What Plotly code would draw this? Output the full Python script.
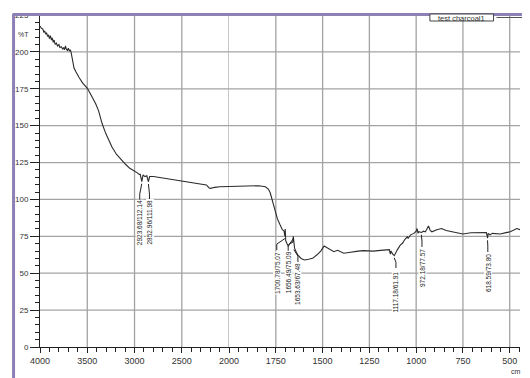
import plotly.graph_objects as go

# ---------------- data ----------------
wavenumber = [4000, 3985, 3970, 3960, 3950, 3940, 3931, 3920, 3910, 3900, 3890, 3879, 3870, 3860,
              3850, 3840, 3827, 3815, 3800, 3790, 3775, 3760, 3750, 3741, 3730, 3723, 3710, 3700,
              3689, 3680, 3672, 3663, 3655, 3640, 3620, 3600, 3585, 3550, 3520, 3499, 3470, 3440,
              3412, 3380, 3344, 3305, 3270, 3240, 3190, 3137, 3090, 3050, 3000, 2970, 2950, 2940,
              2923, 2910, 2890, 2870, 2853, 2840, 2800, 2700, 2600, 2500, 2446, 2400, 2370, 2300,
              2240, 2210, 2195, 2150, 2100, 2000,
              1900, 1841, 1806, 1790, 1780, 1768, 1754, 1742, 1728, 1715, 1706, 1702, 1700, 1697,
              1690, 1684, 1675, 1666, 1660, 1656.5, 1654.5, 1653.6, 1650, 1640, 1632, 1615, 1597,
              1575, 1553, 1530, 1510, 1492, 1475, 1457, 1440, 1420, 1405, 1387, 1360, 1335, 1310,
              1283, 1255, 1230, 1190, 1152, 1143, 1138, 1135, 1125, 1117, 1100, 1085, 1073, 1060,
              1047, 1043, 1030, 1012, 1000, 995, 990, 986, 972, 960, 951, 934, 925, 916, 890, 864,
              840, 812, 780, 750, 707, 670, 640, 625, 620, 618.6, 615, 605, 593, 570, 550, 520,
              497, 462, 445]
transmittance = [217.5, 216, 215.5, 213.5, 214, 212, 213, 210.5, 211.5, 209, 211, 208, 209.5, 206.5,
                 208, 205, 206, 204, 205, 203, 203.5, 202, 203, 201.5, 204, 202, 201, 202.5,
                 200.5, 201.5, 200, 196, 193.5, 189, 186.5, 184, 182.5, 179, 177, 175.3, 172, 168.5,
                 165, 160, 151.6, 144.8, 140, 135.7, 130.5, 126.6, 123.5, 121.1, 119.5, 118, 117, 117,
                 112.1, 116.6, 115.5, 116, 112, 115.5, 115.5, 114.5, 113.5, 112.5, 112, 111.5, 110.8, 110.5,
                 109.8, 107.8, 107.5, 108.2, 108.6, 108.8,
                 109, 109.3, 108.6, 107, 104.5, 99, 94, 87, 83, 79.5, 78.5, 75.1, 80, 72,
                 70, 68.5, 70, 70.5, 71, 75.1, 69, 67.5, 67, 64, 62.3, 60, 59,
                 59.5, 60.1, 62.5, 65, 68.4, 67, 65.7, 64.6, 65.5, 64.6, 63.5, 64, 64.6, 65,
                 65.3, 65, 65, 65.5, 65.7, 66, 63, 65, 63, 61.9, 66, 69, 70.3, 73,
                 74.7, 73.5, 76, 77, 78.5, 80.3, 77, 78.1, 77.6, 78.5, 78, 82, 79, 78.1, 79.5, 80.3,
                 79, 78.1, 77.2, 76.6, 77.4, 77.6, 77.4, 77.5, 75, 73.8, 77, 76, 77, 76.8, 76.6, 77.5,
                 78.1, 80.3, 79.5]

peak_labels = ["2923.68/112.14", "2852.96/111.98", "1700.78/75.07", "1656.49/75.09",
               "1653.63/67.48", "1117.18/61.91", "972.18/77.57", "618.59/73.80"]
peak_wn = [2923.68, 2852.96, 1700.78, 1656.49, 1653.63, 1117.18, 972.18, 618.59]
peak_t = [112.14, 111.98, 75.07, 75.09, 67.48, 61.91, 77.57, 73.80]

x_left_ticks = [4000, 3500, 3000, 2500, 2000]
x_right_ticks = [1750, 1500, 1250, 1000, 750, 500]
y_ticks = [0, 25, 50, 75, 100, 125, 150, 175, 200, 225]
series_name = "test charcoal1"

# ---------------- layout placement (not data) ----------------
# label centre x (wavenumber), centre y (%T), top of label (%T)
label_pos = [(2945, 84.4, 99.6), (2842, 84.7, 99.6), (1745, 50.0, 65.7), (1684, 50.8, 64.4),
             (1632, 42.7, 57.6), (1108, 37.5, 53.5), (969, 53.5, 67.8), (617, 50.0, 64.4)]

SPLIT = 2000
X_END = 445
W, H = 530, 378
ML, MR, MT, MB = 40, 0, 15, 31
PW, PH = W - ML - MR, H - MT - MB
dom_split = 193 / PW


def px(xp):
    return (xp - ML) / PW


def py(yp):
    return (H - MB - yp) / PH


left_x = [w for w in wavenumber if w >= SPLIT]
left_y = [t for w, t in zip(wavenumber, transmittance) if w >= SPLIT]
right_x = [w for w in wavenumber if w <= SPLIT]
right_y = [t for w, t in zip(wavenumber, transmittance) if w <= SPLIT]

line_style = dict(color="#2b2b2b", width=1.1)
fig = go.Figure()
fig.add_trace(go.Scatter(x=left_x, y=left_y, mode="lines", line=line_style,
                         xaxis="x", yaxis="y", showlegend=False, name=series_name))
fig.add_trace(go.Scatter(x=right_x, y=right_y, mode="lines", line=line_style,
                         xaxis="x2", yaxis="y", showlegend=False, name=series_name))

grid_c = "#a3a3a3"
axis_font = dict(family="Liberation Sans, Arial, sans-serif", size=9, color="#333")
common_x = dict(showgrid=False, showline=True, linecolor="#222",
                linewidth=1, ticks="outside", ticklen=5, tickcolor="#222", tickfont=axis_font,
                zeroline=False, anchor="y", tickmode="array")
fig.update_layout(
    width=W, height=H, margin=dict(l=ML, r=MR, t=MT, b=MB, pad=0),
    paper_bgcolor="white", plot_bgcolor="white",
    xaxis=dict(domain=[0, dom_split], range=[4000, SPLIT], tickvals=x_left_ticks,
               minor=dict(dtick=100, ticks="outside", ticklen=4, tickcolor="#222"),
               **common_x),
    xaxis2=dict(domain=[dom_split, 1], range=[SPLIT, X_END], tickvals=x_right_ticks,
                minor=dict(dtick=50, ticks="outside", ticklen=4, tickcolor="#222"),
                **common_x),
    yaxis=dict(range=[0, 225], tickmode="array", tickvals=y_ticks, showgrid=False,
               showline=True, linecolor="#222", linewidth=1, ticks="outside", ticklen=9,
               tickcolor="#222", zeroline=False, anchor="x",
               tickfont=dict(family="Liberation Sans, Arial, sans-serif", size=8, color="#333"),
               minor=dict(dtick=5, ticks="outside", ticklen=4, tickcolor="#222")),
)

shapes = []
annotations = []

# grid lines (drawn via axis coordinates)
grid_line = dict(color=grid_c, width=1.3)
for xv in x_left_ticks[1:]:
    shapes.append(dict(type="line", xref="x", yref="y", x0=xv, x1=xv, y0=0, y1=225,
                       line=grid_line, layer="between"))
for xv in x_right_ticks:
    shapes.append(dict(type="line", xref="x2", yref="y", x0=xv, x1=xv, y0=0, y1=225,
                       line=grid_line, layer="between"))
for yv in y_ticks[1:-1]:
    shapes.append(dict(type="line", xref="x", yref="y", x0=4000, x1=SPLIT, y0=yv, y1=yv,
                       line=grid_line, layer="between"))
    shapes.append(dict(type="line", xref="x2", yref="y", x0=SPLIT, x1=X_END, y0=yv, y1=yv,
                       line=grid_line, layer="between"))

# peak labels and leader lines
for txt, wn, tv, (lx, ly, ltop) in zip(peak_labels, peak_wn, peak_t, label_pos):
    xr = "x" if wn >= SPLIT else "x2"
    annotations.append(dict(x=lx, y=ly, xref=xr, yref="y", text=txt, showarrow=False,
                            textangle=-90, xanchor="center", yanchor="middle",
                            font=dict(family="Liberation Sans, Arial, sans-serif", size=6.5, color="#222"),
                            bgcolor="white", borderpad=0))
    knee = ltop + 4
    path = f"M {lx},{ltop} L {lx},{knee} L {wn},{tv - 1.5}"
    shapes.append(dict(type="path", path=path, xref=xr, yref="y",
                       line=dict(color="#222", width=1)))

# purple window frame
purple = "#8d80b6"
shapes.append(dict(type="line", xref="paper", yref="paper", x0=px(13), x1=px(13),
                   y0=py(14), y1=py(H + 2), line=dict(color=purple, width=3), layer="above"))
shapes.append(dict(type="line", xref="paper", yref="paper", x0=px(12), x1=px(W + 2),
                   y0=py(14.5), y1=py(14.5), line=dict(color=purple, width=3), layer="above"))

# legend box
shapes.append(dict(type="rect", xref="paper", yref="paper", x0=px(438), x1=px(503),
                   y0=py(21), y1=py(14), line=dict(color="#444", width=1), fillcolor="white",
                   layer="above"))
shapes.append(dict(type="line", xref="paper", yref="paper", x0=px(506), x1=px(W + 2),
                   y0=py(17.5), y1=py(17.5), line=dict(color="#555", width=1), layer="above"))
annotations.append(dict(x=px(470.5), y=py(18), xref="paper", yref="paper", text=series_name,
                        showarrow=False, xanchor="center", yanchor="middle",
                        font=dict(family="Liberation Sans, Arial, sans-serif", size=7.5, color="#333")))

annotations.append(dict(x=px(15), y=py(34), xref="paper", yref="paper", text="%T",
                        showarrow=False, xanchor="left", yanchor="middle",
                        font=dict(family="Liberation Sans, Arial, sans-serif", size=7, color="#333")))
annotations.append(dict(x=px(519), y=py(371), xref="paper", yref="paper", text="cm",
                        showarrow=False, xanchor="left", yanchor="middle",
                        font=dict(family="Liberation Sans, Arial, sans-serif", size=7, color="#333")))

fig.update_layout(shapes=shapes, annotations=annotations)
fig.write_html("out.html", config={"displayModeBar": False},
               post_script="document.body.style.margin='0px';document.body.style.padding='0px';"
                           "document.body.style.overflow='hidden';")
